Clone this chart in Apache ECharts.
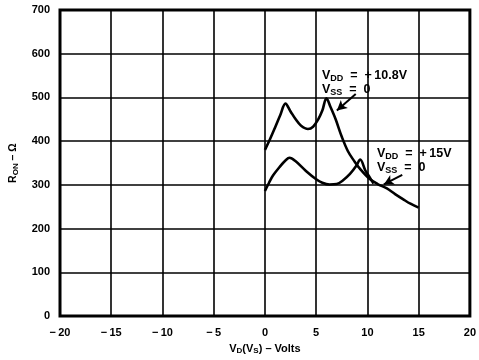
<!DOCTYPE html>
<html><head><meta charset="utf-8">
<script src="https://cdn.jsdelivr.net/npm/echarts@6/dist/echarts.min.js"></script>
<style>html,body{margin:0;padding:0;background:#fff}#c{width:479px;height:360px}</style>
</head><body><div id="c"></div>
<script>
// Data
const xTicks = [-20, -15, -10, -5, 0, 5, 10, 15, 20];
const yTicks = [0, 100, 200, 300, 400, 500, 600, 700];
const curveA_V = [0, 0.5, 1, 1.5, 2, 2.5, 3, 3.5, 4.2, 4.7, 5.2, 5.6, 6, 6.4, 6.9, 7.5, 8.1, 8.7, 9.3, 10.2, 11, 11.9, 12.7, 13.5, 14.2, 15];
const curveA_R = [380, 405, 432, 460, 486, 468, 450, 436, 428, 433, 450, 470, 498, 478, 450, 410, 377, 355, 336, 314, 302, 292, 279, 267, 257, 248];
const curveB_V = [0, 0.4, 0.8, 1.5, 2, 2.4, 3, 4, 5, 5.6, 6.3, 7, 7.6, 8.3, 8.9, 9.3, 9.8, 10.2, 10.6];
const curveB_R = [286, 305, 322, 343, 356, 362, 354, 332, 313, 305, 301, 302, 310, 325, 343, 358, 333, 318, 303];
const arrowA = [[8.86, 508], [7.02, 470]];
const arrowB = [[13.4, 323], [11.6, 301]];
const labelA = ['V{s|DD}  =  +\u200910.8V', 'V{s|SS}  =  0'];
const labelB = ['V{s|DD}  =  +\u200915V', 'V{s|SS}  =  0'];

const FONT = 'Liberation Sans';
const subRich = { s: { fontSize: 9, fontWeight: 'bold', fontFamily: FONT, padding: [6, 0, 0, 0] } };
const pair = (xs, ys) => xs.map((x, i) => [x, ys[i]]);

const chart = echarts.init(document.getElementById('c'));
const txt = (t, x, y) => ({
  type: 'text', left: x, top: y,
  style: { text: t, rich: subRich, fontSize: 12.5, fontWeight: 'bold', fontFamily: FONT, fill: '#000' }
});
chart.setOption({
  animation: false,
  backgroundColor: '#fff',
  grid: { left: 57, right: 9, top: 10, bottom: 40, show: true, borderColor: '#000', borderWidth: 3 },
  xAxis: {
    type: 'value', min: -20, max: 20, interval: 5,
    axisLine: { show: false }, axisTick: { show: false },
    splitLine: { lineStyle: { color: '#000', width: 1.6 } },
    axisLabel: { margin: 11, color: '#000', fontSize: 11, fontWeight: 'bold', fontFamily: FONT,
      formatter: v => v < 0 ? '\u2212\u2009' + (-v) : String(v) },
    name: 'V{s|D}(V{s|S}) \u2013 Volts', nameLocation: 'middle', nameGap: 25,
    nameTextStyle: { color: '#000', fontSize: 11, fontWeight: 'bold', fontFamily: FONT,
      rich: { s: { fontSize: 8, fontWeight: 'bold', fontFamily: FONT, padding: [5, 0, 0, 0] } } }
  },
  yAxis: {
    type: 'value', min: 0, max: 700, interval: 100,
    axisLine: { show: false }, axisTick: { show: false },
    splitLine: { lineStyle: { color: '#000', width: 1.6 } },
    axisLabel: { margin: 10, color: '#000', fontSize: 11, fontWeight: 'bold', fontFamily: FONT },
    name: 'R{s|ON} \u2013 \u03A9', nameLocation: 'middle', nameGap: 40, nameRotate: 90,
    nameTextStyle: { color: '#000', fontSize: 10.5, fontWeight: 'bold', fontFamily: FONT,
      rich: { s: { fontSize: 8, fontWeight: 'bold', fontFamily: FONT, padding: [5, 0, 0, 0] } } }
  },
  series: [
    { type: 'line', data: pair(curveA_V, curveA_R), smooth: 0.35, showSymbol: false,
      lineStyle: { color: '#000', width: 2.6 } },
    { type: 'line', data: pair(curveB_V, curveB_R), smooth: 0.35, showSymbol: false,
      lineStyle: { color: '#000', width: 2.6 } },
    { type: 'line', data: [], markLine: {
        silent: true, symbol: ['none', 'arrow'], symbolSize: [8, 10], label: { show: false },
        lineStyle: { color: '#000', width: 2, type: 'solid' },
        data: [
          [{ coord: arrowA[0] }, { coord: arrowA[1] }],
          [{ coord: arrowB[0] }, { coord: arrowB[1] }]
        ] } }
  ],
  graphic: [
    txt(labelA[0], 322, 69), txt(labelA[1], 322, 83),
    txt(labelB[0], 377, 147), txt(labelB[1], 377, 161)
  ]
});
</script></body></html>
